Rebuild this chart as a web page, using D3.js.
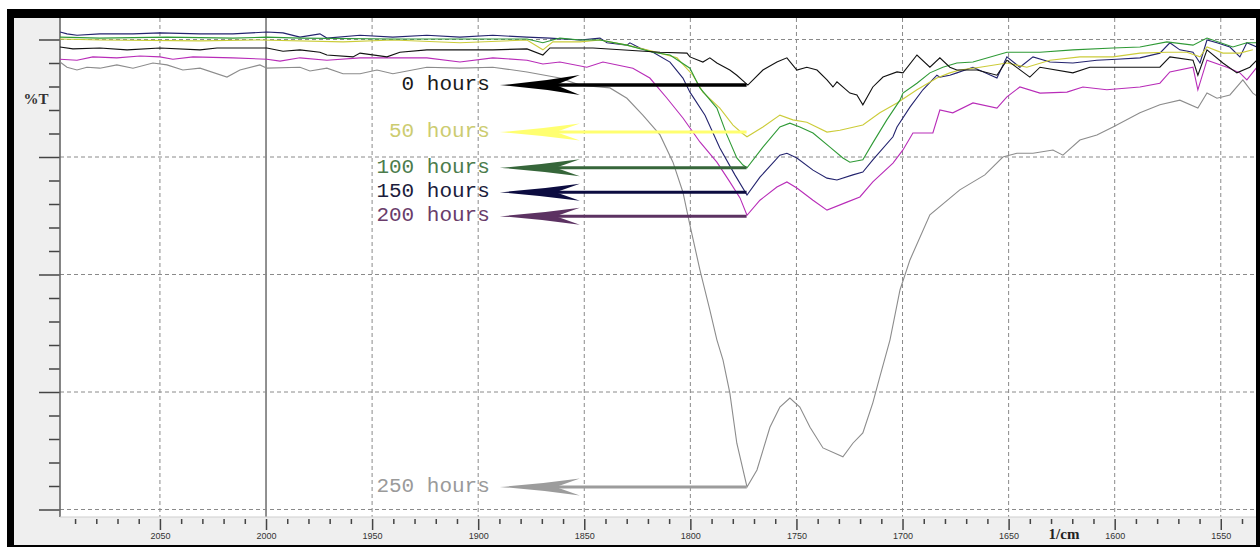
<!DOCTYPE html>
<html>
<head>
<meta charset="utf-8">
<script src="https://cdn.jsdelivr.net/npm/d3@7"></script>
<style>
  body { margin: 0; background: #fff; }
</style>
</head>
<body>
<div id="chart"></div>
<script>
// Data: [wavenumber 1/cm, %T]

const hours0 = [[2097.1,98.4],[2091.0,98.0],[2078.3,98.2],[2065.5,97.8],[2050.0,98.2],[2031.1,97.8],[2023.1,98.2],[1999.6,98.2],[1992.0,97.5],[1984.0,97.8],[1974.6,97.3],[1971.3,96.7],[1959.0,96.3],[1955.7,97.1],[1943.0,96.3],[1936.9,97.3],[1924.2,97.8],[1893.1,97.8],[1877.0,98.0],[1869.5,96.7],[1866.2,98.2],[1845.9,98.2],[1814.3,97.3],[1801.6,97.1],[1800.2,96.3],[1794.1,95.2],[1790.8,96.1],[1787.5,95.0],[1781.4,93.5],[1778.1,92.4],[1772.9,90.3],[1765.8,93.5],[1759.2,95.2],[1754.5,96.1],[1749.8,93.5],[1745.1,94.1],[1740.3,93.5],[1735.6,91.4],[1732.8,89.9],[1730.9,91.0],[1724.8,88.6],[1721.5,88.2],[1718.7,86.1],[1714.0,89.9],[1709.2,92.0],[1702.6,93.1],[1699.8,92.9],[1693.2,96.7],[1687.1,94.1],[1682.4,96.1],[1677.7,94.1],[1674.4,93.5],[1664.9,93.5],[1655.5,92.4],[1650.8,95.6],[1640.0,92.0],[1635.2,94.1],[1619.7,92.9],[1611.7,94.1],[1578.7,94.1],[1574.0,96.3],[1563.1,95.6],[1560.8,92.4],[1556.5,97.8],[1549.0,95.0],[1542.4,92.9],[1536.3,94.1],[1533.0,95.6]]

const hours50 = [[2097.1,100.1],[2078.3,99.9],[2031.1,99.7],[2002.9,99.9],[1963.7,99.5],[1940.2,99.9],[1908.6,99.3],[1877.0,99.9],[1869.5,97.8],[1864.8,99.5],[1852.0,99.5],[1842.6,99.9],[1829.9,98.8],[1814.3,97.1],[1806.3,96.1],[1798.8,92.4],[1794.1,88.8],[1786.1,85.4],[1779.9,81.8],[1775.7,80.1],[1773.3,79.3],[1765.8,81.4],[1757.8,83.9],[1751.7,82.9],[1745.1,82.4],[1735.6,80.3],[1729.5,80.7],[1718.7,81.8],[1710.7,84.4],[1702.6,86.5],[1693.2,89.3],[1683.8,91.8],[1677.7,92.9],[1673.0,93.5],[1663.5,94.1],[1650.8,95.0],[1641.4,94.1],[1630.5,95.6],[1616.4,96.3],[1600.8,96.3],[1588.1,97.1],[1575.4,97.3],[1566.0,97.3],[1559.8,96.3],[1556.5,98.4],[1549.0,97.1],[1541.0,97.1],[1534.9,97.8]]

const hours100 = [[2097.1,100.5],[2078.3,100.3],[2046.7,100.5],[2015.6,100.3],[1999.6,100.5],[1984.0,100.3],[1940.2,100.1],[1877.0,100.1],[1869.5,99.3],[1861.5,100.3],[1852.0,99.9],[1842.6,99.9],[1829.9,98.8],[1817.6,97.3],[1809.6,96.7],[1800.2,93.9],[1795.5,89.7],[1787.5,85.4],[1782.8,79.7],[1778.1,74.8],[1775.2,73.3],[1773.3,72.7],[1765.8,77.1],[1757.8,81.4],[1753.1,82.2],[1748.4,81.4],[1742.2,80.1],[1734.2,77.1],[1728.1,74.8],[1724.8,73.9],[1718.7,74.4],[1714.0,78.0],[1707.4,82.9],[1701.2,87.1],[1699.8,88.6],[1693.2,90.7],[1687.1,92.9],[1681.0,94.1],[1674.4,95.0],[1666.8,95.2],[1650.8,97.3],[1635.2,97.3],[1619.7,97.8],[1600.8,98.2],[1588.1,98.4],[1575.4,99.5],[1563.1,98.8],[1556.5,100.3],[1544.3,98.4],[1537.7,99.3],[1533.0,99.3]]

const hours150 = [[2097.1,101.6],[2093.8,101.2],[2089.1,100.9],[2078.3,101.2],[2062.7,101.2],[2050.0,101.4],[2031.1,101.2],[2015.6,101.2],[1999.6,101.6],[1992.0,101.4],[1984.0,100.5],[1974.6,101.2],[1971.3,100.3],[1955.7,100.9],[1940.2,100.5],[1924.2,100.9],[1908.6,100.5],[1893.1,100.9],[1877.0,100.5],[1866.2,100.3],[1852.0,99.9],[1842.6,100.3],[1839.3,99.3],[1829.9,98.8],[1828.5,99.3],[1823.8,98.2],[1817.6,97.3],[1809.6,95.2],[1803.5,91.8],[1800.2,88.8],[1793.1,83.9],[1786.1,76.9],[1779.0,71.2],[1773.3,66.9],[1767.2,70.7],[1757.8,75.4],[1754.5,75.8],[1749.8,74.8],[1742.2,72.2],[1735.6,70.5],[1730.9,70.1],[1723.4,71.2],[1718.7,71.8],[1714.0,74.4],[1704.5,79.3],[1702.6,81.4],[1696.5,85.6],[1690.4,89.3],[1683.8,92.4],[1682.4,92.0],[1677.7,92.4],[1674.4,92.9],[1666.8,94.1],[1655.5,91.8],[1650.8,96.3],[1644.7,94.1],[1638.5,96.3],[1630.5,95.2],[1619.7,95.0],[1608.4,95.6],[1599.0,95.8],[1588.1,96.1],[1578.7,97.1],[1574.0,99.3],[1569.3,97.8],[1563.1,97.3],[1559.8,95.0],[1556.5,99.9],[1551.8,99.3],[1545.7,98.4],[1541.0,96.3],[1537.7,99.3],[1533.0,98.4]]

const hours200 = [[2097.1,95.8],[2089.1,95.6],[2081.6,96.3],[2070.3,96.1],[2059.4,96.5],[2050.0,96.3],[2043.9,95.8],[2034.4,96.3],[2015.6,96.1],[1999.6,95.8],[1993.4,95.4],[1984.0,96.1],[1971.3,95.6],[1955.7,96.1],[1940.2,96.1],[1924.2,96.1],[1908.6,95.2],[1893.1,96.1],[1877.0,95.6],[1869.5,94.8],[1861.5,95.2],[1848.8,94.1],[1841.2,95.2],[1827.1,93.9],[1819.1,91.8],[1811.0,87.5],[1803.5,83.3],[1795.5,78.2],[1787.5,73.9],[1781.4,69.7],[1776.6,66.3],[1773.3,62.6],[1767.2,65.8],[1759.2,68.6],[1754.5,69.7],[1749.8,68.4],[1742.2,65.8],[1735.6,63.7],[1726.2,65.4],[1720.1,66.5],[1714.0,69.7],[1704.5,73.7],[1699.8,76.5],[1695.1,80.1],[1685.7,80.1],[1682.4,85.0],[1676.3,84.4],[1666.8,86.5],[1655.5,85.4],[1650.8,87.8],[1644.7,89.9],[1635.2,88.6],[1622.5,88.8],[1615.0,89.9],[1603.7,89.3],[1588.1,89.9],[1578.7,90.7],[1574.0,93.1],[1563.1,94.1],[1560.8,89.3],[1556.5,95.6],[1547.1,94.1],[1541.0,92.9],[1537.7,91.4],[1533.0,94.1]]

const hours250 = [[2097.1,95.2],[2093.8,94.1],[2089.1,93.5],[2084.4,94.1],[2078.3,93.9],[2070.3,94.6],[2062.7,93.9],[2053.3,95.0],[2046.7,94.6],[2039.2,93.5],[2031.1,93.9],[2018.4,92.0],[2012.3,93.5],[2002.9,94.6],[1999.6,93.9],[1984.0,94.1],[1979.3,93.3],[1971.3,93.9],[1963.7,92.7],[1955.7,92.7],[1947.7,93.5],[1940.2,92.7],[1924.2,94.1],[1908.6,93.9],[1893.1,94.1],[1877.0,93.1],[1861.5,91.8],[1852.0,90.3],[1837.9,89.7],[1829.9,87.5],[1822.4,83.9],[1814.3,79.7],[1808.2,73.9],[1803.5,67.5],[1800.2,60.5],[1795.5,51.0],[1790.8,42.4],[1787.5,36.1],[1784.6,31.8],[1781.4,24.8],[1778.1,14.1],[1773.3,4.8],[1768.6,8.4],[1762.5,17.5],[1757.8,21.8],[1753.1,23.7],[1748.4,21.8],[1743.6,17.5],[1737.5,13.1],[1728.1,11.2],[1723.4,14.1],[1718.7,16.3],[1714.0,22.7],[1710.7,28.2],[1705.9,36.1],[1701.2,46.7],[1696.5,53.1],[1687.1,62.7],[1673.0,68.0],[1661.2,71.2],[1652.7,75.0],[1646.1,75.8],[1638.5,75.8],[1629.1,76.5],[1624.4,75.4],[1616.4,78.6],[1608.4,79.7],[1600.8,81.4],[1588.1,84.4],[1578.7,86.1],[1569.3,87.1],[1560.8,85.4],[1556.5,88.6],[1551.8,87.5],[1545.7,88.2],[1539.6,91.4],[1534.9,88.6],[1533.0,88.0]]

const seriesNames = ["0 hours","50 hours","100 hours","150 hours","200 hours","250 hours"]
// %T level that each label arrow points at (the band minimum)
const arrowLevels = [90.3, 80.3, 72.7, 67.5, 62.4, 4.8]
const arrowFrom = 1773.5
const arrowTo = 1889.8

const xMajor = [2050,2000,1950,1900,1850,1800,1750,1700,1650,1600,1550]
const yMajor = [0,25,50,75,100]

//Initialize
var width = 1260
var height = 547
var plotLeft = 60, plotRight = 1256, plotTop = 18, plotBottom = 517

const lineColors = ["#111111","#cccc3a","#2f9a36","#23236e","#b82cb8","#8c8c8c"]
const labelColors = ["#1a1a1a","#cccc70","#4c7c4c","#1c1c3c","#6a3c6a","#9a9a9a"]
const arrowColors = ["#000000","#ffff70","#36663a","#0c0c40","#5c3262","#9c9c9c"]

const svg = d3.select('#chart').append('svg')
  .attr("width",width)
  .attr("height",height)

// Frame
svg.append("rect").attr("x",7).attr("y",9).attr("width",1253).attr("height",538).attr("fill","#000")
svg.append("rect").attr("x",14).attr("y",18).attr("width",1242).attr("height",527).attr("fill","#efefef")
svg.append("rect").attr("x",plotLeft).attr("y",plotTop)
  .attr("width",plotRight-plotLeft).attr("height",plotBottom-plotTop).attr("fill","#fff")

const x = d3.scaleLinear().domain([2097.1,1533.4]).range([plotLeft,plotRight])
const y = d3.scaleLinear().domain([0,100]).range([509.5,39.5])

svg.append("clipPath").attr("id","plotclip")
  .append("rect").attr("x",plotLeft).attr("y",plotTop)
  .attr("width",plotRight-plotLeft).attr("height",plotBottom-plotTop)

// Grid
const grid = svg.append("g").attr("clip-path","url(#plotclip)")
grid.selectAll("line.v").data(xMajor).enter().append("line")
  .attr("x1",d=>x(d)).attr("x2",d=>x(d))
  .attr("y1",plotTop).attr("y2",plotBottom)
  .attr("stroke",d=>d==2000 ? "#555" : "#8a8a8a")
  .attr("stroke-width",d=>d==2000 ? 1.3 : 1)
  .attr("stroke-dasharray",d=>d==2000 ? null : "4,3")
grid.selectAll("line.h").data(yMajor).enter().append("line")
  .attr("y1",d=>y(d)).attr("y2",d=>y(d))
  .attr("x1",plotLeft).attr("x2",plotRight)
  .attr("stroke","#8a8a8a")
  .attr("stroke-dasharray","4,3")

// Axes
const xMinor = d3.range(2090,1533,-10).filter(v=>v%50!=0)
const yMinor = d3.range(0,105,5).filter(v=>v%25!=0)

const styleAxis = g => {
  g.select(".domain").remove()
  g.selectAll(".tick line").attr("stroke","#444").attr("stroke-width",1.5)
}

svg.append("g").attr("transform","translate(0,519)")
  .call(d3.axisBottom(x).tickValues(xMinor).tickSize(5).tickFormat(""))
  .call(styleAxis)
svg.append("g").attr("transform","translate(0,519)")
  .call(d3.axisBottom(x).tickValues(xMajor).tickSize(11).tickPadding(3).tickFormat(d3.format("d")))
  .call(styleAxis)
  .call(g=>g.selectAll("text").attr("font-family","Liberation Sans, Arial").attr("font-size",9).attr("fill","#333"))

svg.append("g").attr("transform","translate("+plotLeft+",0)")
  .call(d3.axisLeft(y).tickValues(yMinor).tickSize(11).tickFormat(""))
  .call(styleAxis)
svg.append("g").attr("transform","translate("+plotLeft+",0)")
  .call(d3.axisLeft(y).tickValues(yMajor).tickSize(21).tickFormat(""))
  .call(styleAxis)

svg.append("line").attr("x1",plotLeft).attr("x2",plotLeft).attr("y1",plotTop).attr("y2",plotBottom)
  .attr("stroke","#666").attr("stroke-width",1.6)
svg.append("line").attr("x1",plotLeft).attr("x2",plotRight).attr("y1",plotBottom).attr("y2",plotBottom)
  .attr("stroke","#cfcfcf")

// Axis titles
svg.append("text").attr("x",36).attr("y",104).attr("text-anchor","middle")
  .attr("font-family","Liberation Serif, serif").attr("font-weight","bold").attr("font-size",15)
  .attr("fill","#333").text("%T")
svg.append("text").attr("x",1064).attr("y",539).attr("text-anchor","middle")
  .attr("font-family","Liberation Serif, serif").attr("font-weight","bold").attr("font-size",15)
  .attr("fill","#222").text("1/cm")

// Spectra
const allSeries = [hours0,hours50,hours100,hours150,hours200,hours250]
const line = d3.line().x(d=>x(d[0])).y(d=>y(d[1]))
const drawOrder = [5,4,3,1,2,0]

svg.append("g").attr("clip-path","url(#plotclip)")
  .selectAll("path")
  .data(drawOrder)
  .enter()
  .append("path")
  .attr("d",i=>line(allSeries[i]))
  .attr("fill","none")
  .attr("stroke",i=>lineColors[i])
  .attr("stroke-width",1.1)

// Labels and arrows
const notes = svg.append("g")
seriesNames.forEach((name,i)=>{
  const ty = y(arrowLevels[i])
  const tx = x(arrowTo)
  const h = i==0 ? 10 : 8.5
  const w = i==0 ? 3.5 : 3
  notes.append("line")
    .attr("x1",tx+50).attr("x2",x(arrowFrom))
    .attr("y1",ty).attr("y2",ty)
    .attr("stroke",arrowColors[i]).attr("stroke-width",w)
  notes.append("path")
    .attr("d","M"+tx+","+ty+" Q"+(tx+40)+","+(ty-3)+" "+(tx+80)+","+(ty-h)+
      " L"+(tx+56)+","+ty+" L"+(tx+80)+","+(ty+h)+" Q"+(tx+40)+","+(ty+3)+" "+tx+","+ty+"Z")
    .attr("fill",arrowColors[i])
  notes.append("text")
    .attr("x",tx-10).attr("y",ty+5)
    .attr("text-anchor","end")
    .attr("font-family","Liberation Mono, Courier New, monospace")
    .attr("font-size",21)
    .attr("fill",labelColors[i])
    .text(name)
})
</script>
</body>
</html>
